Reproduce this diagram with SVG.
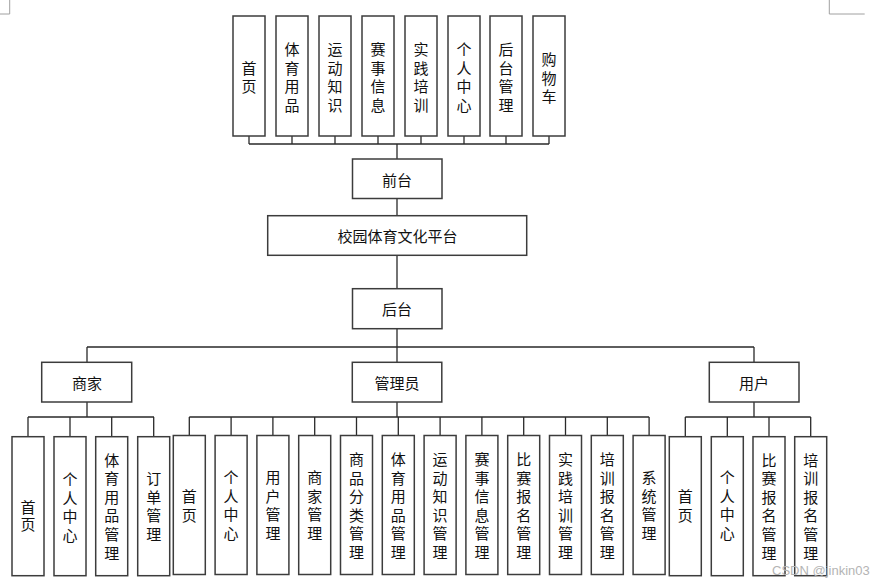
<svg xmlns="http://www.w3.org/2000/svg" width="885" height="588" viewBox="0 0 885 588">
<style>
.b{fill:#fff;stroke:#3c3c3c;stroke-width:1.5}
.c{fill:none;stroke:#2a2a2a;stroke-width:1.3}
.t{font-family:"Noto Sans CJK SC","Noto Sans",sans-serif;font-size:15px;fill:#111;text-anchor:middle;dominant-baseline:central}
.m{fill:none;stroke:#a0a0a0;stroke-width:1}
.w{font-family:"Liberation Sans",Arial,sans-serif;font-size:13px;fill:#b4b4b4}
</style>
<rect width="885" height="588" fill="#fff"/>
<path class="m" d="M9.7 0V14H0M829.3 0V14H864.7"/>
<g id="connectors">
<path class="c" d="M249 136V144M292 136V144M335 136V144M378 136V144M421 136V144M464 136V144M506 136V144M549 136V144M249 144H549M397 144V159"/>
<path class="c" d="M397 198.5V215.7M397 255.3V288.7M397 328.7V347M87 347H754M87 347V362.3M754 347V362.3M397 347V362.3"/>
<path class="c" d="M87 402V417M28 417H154M28 417V436.7M70 417V436.7M111.7 417V436.7M153.7 417V436.7"/>
<path class="c" d="M397 402V417M189.3 417H649.1M189.3 417V435.5M231.1 417V435.5M272.9 417V435.5M314.7 417V435.5M356.5 417V435.5M398.3 417V435.5M440.1 417V435.5M481.9 417V435.5M523.7 417V435.5M565.5 417V435.5M607.3 417V435.5M649.1 417V435.5"/>
<path class="c" d="M754 402V417M685.3 417H810.7M685.3 417V436.7M727.3 417V436.7M769 417V436.7M810.7 417V436.7"/>
</g>
<g id="top-shouye"><rect class="b" x="233" y="16" width="32" height="120"/><text class="t"><tspan x="249" y="66.7">首</tspan><tspan x="249" y="85.3">页</tspan></text></g>
<g id="top-tiyuyongpin"><rect class="b" x="276" y="16" width="32" height="120"/><text class="t"><tspan x="292" y="48.1">体</tspan><tspan x="292" y="66.7">育</tspan><tspan x="292" y="85.3">用</tspan><tspan x="292" y="103.9">品</tspan></text></g>
<g id="top-yundongzhishi"><rect class="b" x="319" y="16" width="32" height="120"/><text class="t"><tspan x="335" y="48.1">运</tspan><tspan x="335" y="66.7">动</tspan><tspan x="335" y="85.3">知</tspan><tspan x="335" y="103.9">识</tspan></text></g>
<g id="top-saishixinxi"><rect class="b" x="362" y="16" width="32" height="120"/><text class="t"><tspan x="378" y="48.1">赛</tspan><tspan x="378" y="66.7">事</tspan><tspan x="378" y="85.3">信</tspan><tspan x="378" y="103.9">息</tspan></text></g>
<g id="top-shijianpeixun"><rect class="b" x="405" y="16" width="32" height="120"/><text class="t"><tspan x="421" y="48.1">实</tspan><tspan x="421" y="66.7">践</tspan><tspan x="421" y="85.3">培</tspan><tspan x="421" y="103.9">训</tspan></text></g>
<g id="top-gerenzhongxin"><rect class="b" x="448" y="16" width="32" height="120"/><text class="t"><tspan x="464" y="48.1">个</tspan><tspan x="464" y="66.7">人</tspan><tspan x="464" y="85.3">中</tspan><tspan x="464" y="103.9">心</tspan></text></g>
<g id="top-houtaiguanli"><rect class="b" x="490" y="16" width="32" height="120"/><text class="t"><tspan x="506" y="48.1">后</tspan><tspan x="506" y="66.7">台</tspan><tspan x="506" y="85.3">管</tspan><tspan x="506" y="103.9">理</tspan></text></g>
<g id="top-gouwuche"><rect class="b" x="533" y="16" width="32" height="120"/><text class="t"><tspan x="549" y="58">购</tspan><tspan x="549" y="76.6">物</tspan><tspan x="549" y="95.2">车</tspan></text></g>
<g id="qiantai"><rect class="b" x="352.5" y="159" width="89.5" height="39.5"/><text class="t" x="397" y="179">前台</text></g>
<g id="pingtai"><rect class="b" x="267.7" y="215.7" width="259" height="39.6"/><text class="t" x="397.5" y="235.5">校园体育文化平台</text></g>
<g id="houtai"><rect class="b" x="352.5" y="288.7" width="89.5" height="40"/><text class="t" x="397" y="308.5">后台</text></g>
<g id="shangjia"><rect class="b" x="41.7" y="362.3" width="90" height="39.7"/><text class="t" x="87" y="382">商家</text></g>
<g id="guanliyuan"><rect class="b" x="352.3" y="362.3" width="89.5" height="39.7"/><text class="t" x="397" y="382">管理员</text></g>
<g id="yonghu"><rect class="b" x="709.3" y="362.3" width="89.7" height="39.7"/><text class="t" x="754" y="382">用户</text></g>
<g id="sj-shouye"><rect class="b" x="12" y="436.7" width="32" height="139"/><text class="t"><tspan x="28" y="506">首</tspan><tspan x="28" y="523.3">页</tspan></text></g>
<g id="sj-gerenzhongxin"><rect class="b" x="54" y="436.7" width="32" height="139"/><text class="t"><tspan x="70" y="478">个</tspan><tspan x="70" y="496.6">人</tspan><tspan x="70" y="515.2">中</tspan><tspan x="70" y="533.8">心</tspan></text></g>
<g id="sj-tiyuyongpinguanli"><rect class="b" x="95.7" y="436.7" width="32" height="139"/><text class="t"><tspan x="111.7" y="458.5">体</tspan><tspan x="111.7" y="477.1">育</tspan><tspan x="111.7" y="495.7">用</tspan><tspan x="111.7" y="514.3">品</tspan><tspan x="111.7" y="532.9">管</tspan><tspan x="111.7" y="551.5">理</tspan></text></g>
<g id="sj-dingdanguanli"><rect class="b" x="137.7" y="436.7" width="32" height="139"/><text class="t"><tspan x="153.7" y="477.1">订</tspan><tspan x="153.7" y="495.7">单</tspan><tspan x="153.7" y="514.3">管</tspan><tspan x="153.7" y="532.9">理</tspan></text></g>
<g id="gl-shouye"><rect class="b" x="173.3" y="435.5" width="32" height="139"/><text class="t"><tspan x="189.3" y="495.3">首</tspan><tspan x="189.3" y="513.9">页</tspan></text></g>
<g id="gl-gerenzhongxin"><rect class="b" x="215.1" y="435.5" width="32" height="139"/><text class="t"><tspan x="231.1" y="476.1">个</tspan><tspan x="231.1" y="494.7">人</tspan><tspan x="231.1" y="513.3">中</tspan><tspan x="231.1" y="531.9">心</tspan></text></g>
<g id="gl-yonghuguanli"><rect class="b" x="256.9" y="435.5" width="32" height="139"/><text class="t"><tspan x="272.9" y="476.1">用</tspan><tspan x="272.9" y="494.7">户</tspan><tspan x="272.9" y="513.3">管</tspan><tspan x="272.9" y="531.9">理</tspan></text></g>
<g id="gl-shangjiaguanli"><rect class="b" x="298.7" y="435.5" width="32" height="139"/><text class="t"><tspan x="314.7" y="476.1">商</tspan><tspan x="314.7" y="494.7">家</tspan><tspan x="314.7" y="513.3">管</tspan><tspan x="314.7" y="531.9">理</tspan></text></g>
<g id="gl-shangpinfenleiguanli"><rect class="b" x="340.5" y="435.5" width="32" height="139"/><text class="t"><tspan x="356.5" y="458">商</tspan><tspan x="356.5" y="476.6">品</tspan><tspan x="356.5" y="495.2">分</tspan><tspan x="356.5" y="513.8">类</tspan><tspan x="356.5" y="532.4">管</tspan><tspan x="356.5" y="551">理</tspan></text></g>
<g id="gl-tiyuyongpinguanli"><rect class="b" x="382.3" y="435.5" width="32" height="139"/><text class="t"><tspan x="398.3" y="458">体</tspan><tspan x="398.3" y="476.6">育</tspan><tspan x="398.3" y="495.2">用</tspan><tspan x="398.3" y="513.8">品</tspan><tspan x="398.3" y="532.4">管</tspan><tspan x="398.3" y="551">理</tspan></text></g>
<g id="gl-yundongzhishiguanli"><rect class="b" x="424.1" y="435.5" width="32" height="139"/><text class="t"><tspan x="440.1" y="458">运</tspan><tspan x="440.1" y="476.6">动</tspan><tspan x="440.1" y="495.2">知</tspan><tspan x="440.1" y="513.8">识</tspan><tspan x="440.1" y="532.4">管</tspan><tspan x="440.1" y="551">理</tspan></text></g>
<g id="gl-saishixinxiguanli"><rect class="b" x="465.9" y="435.5" width="32" height="139"/><text class="t"><tspan x="481.9" y="458">赛</tspan><tspan x="481.9" y="476.6">事</tspan><tspan x="481.9" y="495.2">信</tspan><tspan x="481.9" y="513.8">息</tspan><tspan x="481.9" y="532.4">管</tspan><tspan x="481.9" y="551">理</tspan></text></g>
<g id="gl-bisaibaomingguanli"><rect class="b" x="507.7" y="435.5" width="32" height="139"/><text class="t"><tspan x="523.7" y="458">比</tspan><tspan x="523.7" y="476.6">赛</tspan><tspan x="523.7" y="495.2">报</tspan><tspan x="523.7" y="513.8">名</tspan><tspan x="523.7" y="532.4">管</tspan><tspan x="523.7" y="551">理</tspan></text></g>
<g id="gl-shijianpeixunguanli"><rect class="b" x="549.5" y="435.5" width="32" height="139"/><text class="t"><tspan x="565.5" y="458">实</tspan><tspan x="565.5" y="476.6">践</tspan><tspan x="565.5" y="495.2">培</tspan><tspan x="565.5" y="513.8">训</tspan><tspan x="565.5" y="532.4">管</tspan><tspan x="565.5" y="551">理</tspan></text></g>
<g id="gl-peixunbaomingguanli"><rect class="b" x="591.3" y="435.5" width="32" height="139"/><text class="t"><tspan x="607.3" y="458">培</tspan><tspan x="607.3" y="476.6">训</tspan><tspan x="607.3" y="495.2">报</tspan><tspan x="607.3" y="513.8">名</tspan><tspan x="607.3" y="532.4">管</tspan><tspan x="607.3" y="551">理</tspan></text></g>
<g id="gl-xitongguanli"><rect class="b" x="633.1" y="435.5" width="32" height="139"/><text class="t"><tspan x="649.1" y="476.1">系</tspan><tspan x="649.1" y="494.7">统</tspan><tspan x="649.1" y="513.3">管</tspan><tspan x="649.1" y="531.9">理</tspan></text></g>
<g id="yh-shouye"><rect class="b" x="669.3" y="436.7" width="32" height="139"/><text class="t"><tspan x="685.3" y="495.3">首</tspan><tspan x="685.3" y="513.9">页</tspan></text></g>
<g id="yh-gerenzhongxin"><rect class="b" x="711.3" y="436.7" width="32" height="139"/><text class="t"><tspan x="727.3" y="476.1">个</tspan><tspan x="727.3" y="494.7">人</tspan><tspan x="727.3" y="513.3">中</tspan><tspan x="727.3" y="531.9">心</tspan></text></g>
<g id="yh-bisaibaomingguanli"><rect class="b" x="753" y="436.7" width="32" height="139"/><text class="t"><tspan x="769" y="458.5">比</tspan><tspan x="769" y="477.1">赛</tspan><tspan x="769" y="495.7">报</tspan><tspan x="769" y="514.3">名</tspan><tspan x="769" y="532.9">管</tspan><tspan x="769" y="551.5">理</tspan></text></g>
<g id="yh-peixunbaomingguanli"><rect class="b" x="794.7" y="436.7" width="32" height="139"/><text class="t"><tspan x="810.7" y="458.5">培</tspan><tspan x="810.7" y="477.1">训</tspan><tspan x="810.7" y="495.7">报</tspan><tspan x="810.7" y="514.3">名</tspan><tspan x="810.7" y="532.9">管</tspan><tspan x="810.7" y="551.5">理</tspan></text></g>
<text class="w" x="772" y="575">CSDN @jinkin03</text>
</svg>
